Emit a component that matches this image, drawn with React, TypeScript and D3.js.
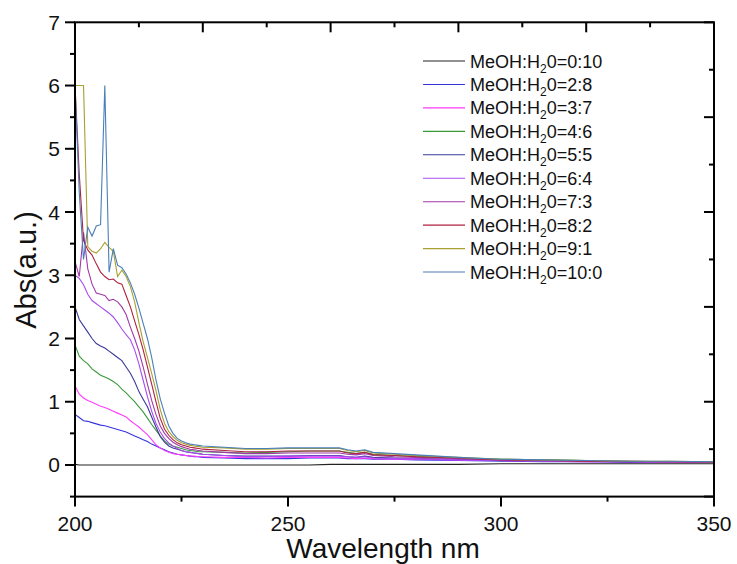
import React from "react";
import * as d3 from "d3";

const wavelengths = [
  200, 201, 202, 203, 204, 205, 206, 207, 208, 209, 210, 211, 212, 213, 214, 215,
  216, 217, 218, 219, 220, 221, 222, 223, 224, 225, 226, 227, 228, 229, 230,
  235, 240, 245, 250, 255, 260, 262, 264, 266, 268, 270, 275, 280, 290, 300, 310, 320, 330, 340, 350,
];

const ratios = ["0:10", "2:8", "3:7", "4:6", "5:5", "6:4", "7:3", "8:2", "9:1", "10:0"];
const colors = ["#222222", "#3535e0", "#ff3cff", "#3a9a3a", "#3a3a9a", "#a84cf0", "#a03aa8", "#b02040", "#a8a030", "#4a7fb8"];

const s0_10 = [
  0.01, 0, 0, 0, 0, 0, 0, 0, 0, 0, 0, 0, 0, 0, 0, 0, 0, 0, 0, 0, 0, 0, 0, 0, 0, 0, 0, 0, 0, 0, 0,
  0, 0, 0, 0, 0, 0.01, 0.01, 0.01, 0.01, 0.01, 0.01, 0.01, 0.01, 0.01, 0.02, 0.02, 0.02, 0.02, 0.02, 0.02,
];
const s2_8 = [
  0.8, 0.75, 0.7, 0.69, 0.67, 0.65, 0.63, 0.62, 0.6, 0.58, 0.56, 0.54, 0.52, 0.49, 0.46, 0.43,
  0.4, 0.37, 0.33, 0.3, 0.27, 0.24, 0.21, 0.19, 0.17, 0.16, 0.15, 0.14, 0.13, 0.13, 0.12,
  0.11, 0.1, 0.1, 0.1, 0.11, 0.11, 0.11, 0.1, 0.1, 0.1, 0.09, 0.09, 0.08, 0.07, 0.06, 0.05, 0.05, 0.04, 0.04, 0.04,
];
const s3_7 = [
  1.25, 1.12, 1.06, 1.02, 0.99, 0.96, 0.93, 0.91, 0.88, 0.85, 0.82, 0.79, 0.76, 0.7, 0.65, 0.6,
  0.54, 0.48, 0.4, 0.32, 0.27, 0.23, 0.2, 0.18, 0.17, 0.16, 0.15, 0.14, 0.14, 0.13, 0.13,
  0.12, 0.12, 0.11, 0.12, 0.12, 0.12, 0.12, 0.11, 0.1, 0.11, 0.1, 0.09, 0.09, 0.08, 0.07, 0.06, 0.05, 0.05, 0.04, 0.04,
];
const s4_6 = [
  1.9, 1.72, 1.65, 1.6, 1.52, 1.47, 1.42, 1.39, 1.36, 1.32, 1.27, 1.2, 1.14, 1.07, 1.0, 0.92,
  0.84, 0.74, 0.64, 0.55, 0.46, 0.38, 0.33, 0.3, 0.28, 0.26, 0.24, 0.23, 0.22, 0.21, 0.21,
  0.2, 0.19, 0.2, 0.21, 0.22, 0.22, 0.22, 0.2, 0.18, 0.2, 0.17, 0.15, 0.14, 0.11, 0.09, 0.08, 0.07, 0.06, 0.05, 0.05,
];
const s5_5 = [
  2.5, 2.3, 2.2, 2.1, 2.0, 1.92, 1.88, 1.85, 1.8, 1.75, 1.7, 1.65, 1.55, 1.45, 1.32, 1.16,
  1.04, 0.92, 0.76, 0.6, 0.45, 0.36, 0.3, 0.27, 0.25, 0.23, 0.21, 0.2, 0.19, 0.18, 0.17,
  0.15, 0.14, 0.14, 0.14, 0.15, 0.15, 0.15, 0.13, 0.12, 0.14, 0.12, 0.11, 0.1, 0.09, 0.07, 0.06, 0.06, 0.05, 0.05, 0.04,
];
const s6_4 = [
  3.0, 2.95, 2.85, 2.7, 2.6, 2.55, 2.5, 2.45, 2.4, 2.34, 2.25, 2.15, 2.06, 1.98, 1.82, 1.6,
  1.34, 1.08, 0.85, 0.66, 0.52, 0.42, 0.35, 0.3, 0.26, 0.23, 0.21, 0.2, 0.19, 0.18, 0.17,
  0.15, 0.13, 0.13, 0.14, 0.14, 0.14, 0.14, 0.13, 0.12, 0.13, 0.11, 0.1, 0.1, 0.08, 0.07, 0.06, 0.05, 0.05, 0.04, 0.04,
];
const s7_3 = [
  3.22, 2.98, 3.68, 3.1, 2.86, 2.72, 2.7, 2.68, 2.6, 2.62, 2.58, 2.5, 2.38, 2.18, 2.0, 1.8,
  1.55, 1.28, 1.02, 0.8, 0.62, 0.5, 0.42, 0.36, 0.32, 0.29, 0.27, 0.25, 0.24, 0.23, 0.22,
  0.2, 0.18, 0.18, 0.19, 0.19, 0.19, 0.19, 0.17, 0.16, 0.18, 0.15, 0.13, 0.12, 0.1, 0.08, 0.07, 0.06, 0.05, 0.05, 0.04,
];
const s8_2 = [
  6.0, 4.6, 3.55, 3.4, 3.32, 3.18, 3.05, 2.98, 2.93, 2.94, 2.88, 2.86, 2.68, 2.5, 2.28, 2.06,
  1.82, 1.55, 1.28, 1.0, 0.74, 0.57, 0.47, 0.4, 0.35, 0.32, 0.3, 0.28, 0.27, 0.26, 0.25,
  0.23, 0.21, 0.21, 0.22, 0.22, 0.22, 0.22, 0.19, 0.18, 0.2, 0.16, 0.15, 0.13, 0.11, 0.08, 0.07, 0.06, 0.06, 0.05, 0.05,
];
const s9_1 = [
  6.0, 6.0, 6.0, 3.45, 3.38, 3.35, 3.42, 3.52, 3.44, 3.38, 2.98, 3.08, 2.98, 2.82, 2.58, 2.25,
  1.95, 1.7, 1.45, 1.18, 0.88, 0.66, 0.53, 0.45, 0.39, 0.35, 0.33, 0.31, 0.3, 0.29, 0.28,
  0.27, 0.25, 0.25, 0.26, 0.26, 0.26, 0.26, 0.23, 0.21, 0.23, 0.19, 0.17, 0.15, 0.12, 0.09, 0.08, 0.07, 0.06, 0.06, 0.05,
];
const s10_0 = [
  6.0, 4.3, 3.25, 3.76, 3.62, 3.78, 3.8, 6.0, 3.05, 3.42, 3.16, 3.12, 3.02, 2.88, 2.7, 2.48,
  2.24, 2.0, 1.7, 1.35, 1.05, 0.82, 0.62, 0.5, 0.42, 0.38, 0.35, 0.33, 0.32, 0.31, 0.3,
  0.28, 0.26, 0.26, 0.27, 0.27, 0.27, 0.27, 0.24, 0.22, 0.24, 0.2, 0.18, 0.16, 0.12, 0.09, 0.08, 0.07, 0.06, 0.06, 0.05,
];
const seriesValues = [s0_10, s2_8, s3_7, s4_6, s5_5, s6_4, s7_3, s8_2, s9_1, s10_0];

const xTicks = [200, 250, 300, 350];
const xMinor = [225, 275, 325];
const yTicks = [0, 1, 2, 3, 4, 5, 6, 7];
const yMinor = [-0.5, 0.5, 1.5, 2.5, 3.5, 4.5, 5.5, 6.5];
const topTicks = d3.range(200, 351, 15);
const rightTicks = d3.range(0, 11).map((k) => -0.5 + 0.75 * k);

const FONT = "'Liberation Sans', Arial, sans-serif";

export default function App() {
  const W = 737, H = 564;
  const L = 75, R = 714, T = 22.3, B = 496.6;
  const x = d3.scaleLinear().domain([200, 350]).range([L, R]);
  const y = d3.scaleLinear().domain([-0.5, 7]).range([B, T]);
  const line = d3
    .line<number>()
    .x((_, i) => x(wavelengths[i]))
    .y((d) => y(d));

  return (
    <svg
      width={W}
      height={H}
      style={{ position: "absolute", left: 0, top: 0, background: "#fff" }}
      fontFamily={FONT}
    >
      <rect width={W} height={H} fill="#fff" />
      {seriesValues.map((vals, si) => (
        <path key={si} d={line(vals) || ""} fill="none" stroke={colors[si]} strokeWidth={1.1} />
      ))}
      <rect x={L} y={T} width={R - L} height={B - T} fill="none" stroke="#000" strokeWidth={2} />
      {xTicks.map((t) => (
        <g key={"xt" + t}>
          <line x1={x(t)} x2={x(t)} y1={B} y2={B + 10} stroke="#000" strokeWidth={2} />
          <text x={x(t)} y={531} fontSize={21} textAnchor="middle" fill="#111">
            {t}
          </text>
        </g>
      ))}
      {xMinor.map((t) => (
        <line key={"xm" + t} x1={x(t)} x2={x(t)} y1={B} y2={B + 5} stroke="#000" strokeWidth={2} />
      ))}
      {topTicks.map((t, k) => (
        <line key={"tt" + t} x1={x(t)} x2={x(t)} y1={T} y2={T + (k % 2 === 0 ? 10 : 5)} stroke="#000" strokeWidth={2} />
      ))}
      {yTicks.map((t) => (
        <g key={"yt" + t}>
          <line x1={L - 10} x2={L} y1={y(t)} y2={y(t)} stroke="#000" strokeWidth={2} />
          <text x={60} y={y(t) + 7.5} fontSize={21} textAnchor="end" fill="#111">
            {t}
          </text>
        </g>
      ))}
      {yMinor.map((t) => (
        <line key={"ym" + t} x1={L - 5} x2={L} y1={y(t)} y2={y(t)} stroke="#000" strokeWidth={2} />
      ))}
      {rightTicks.map((t, k) => (
        <line key={"rt" + k} x1={R - (k % 2 === 0 ? 10 : 5)} x2={R} y1={y(t)} y2={y(t)} stroke="#000" strokeWidth={2} />
      ))}
      <text x={383} y={558} fontSize={28} textAnchor="middle" fill="#111">
        Wavelength nm
      </text>
      <text transform={`translate(36,270) rotate(-90)`} fontSize={29} textAnchor="middle" fill="#111">
        Abs(a.u.)
      </text>
      {ratios.map((r, i) => {
        const cy = 61 + i * 23.45;
        return (
          <g key={"lg" + i}>
            <line x1={423} x2={465} y1={cy} y2={cy} stroke={colors[i]} strokeWidth={1.1} />
            <text x={470} y={cy + 6.5} fontSize={18} fill="#111">
              MeOH:H
              <tspan fontSize={12} dy={5}>
                2
              </tspan>
              <tspan dy={-5}>{"0=" + r}</tspan>
            </text>
          </g>
        );
      })}
    </svg>
  );
}
